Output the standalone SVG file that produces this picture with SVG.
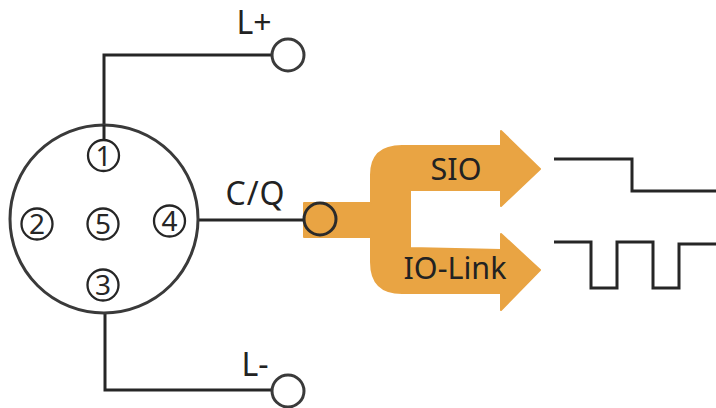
<svg xmlns="http://www.w3.org/2000/svg" width="716" height="408" viewBox="0 0 716 408">
<style>
.w{fill:none;stroke:#262626;stroke-width:3;stroke-linejoin:miter}
.c{fill:#fff;stroke:#3a3a3a;stroke-width:3}
.p{fill:#fff;stroke:#262626;stroke-width:2.300}
.pt{font-family:"Noto Sans","Open Sans",sans-serif;font-size:28px;fill:#262626;text-anchor:middle}
.t{font-family:"Noto Sans","Open Sans",sans-serif;font-size:30.500px;fill:#222;text-anchor:middle}
.o{font-family:"Noto Sans","Open Sans",sans-serif;font-size:32px;fill:#222;text-anchor:middle}
</style>
<rect width="716" height="408" fill="#fff"/>
<g id="connectors">
<path class="w" d="M104 132V55H273"/>
<path class="w" d="M105 313V390H273"/>
<path class="w" d="M186 220H305"/>
</g>
<g id="connector-body">
<circle cx="104" cy="219" r="94" class="c"/>
</g>
<g id="pin-1"><path class="w" d="M104 125V141"/><circle cx="103.500" cy="155.500" r="15.500" class="p"/><text x="103.500" y="165.500" class="pt">1</text></g>
<g id="pin-2"><circle cx="37" cy="224" r="15.500" class="p"/><text x="37" y="234" class="pt">2</text></g>
<g id="pin-5"><circle cx="103" cy="224" r="15.500" class="p"/><text x="103" y="234" class="pt">5</text></g>
<g id="pin-4"><circle cx="169.500" cy="221" r="15.500" class="p"/><text x="169.500" y="231" class="pt">4</text></g>
<g id="pin-3"><circle cx="103" cy="285" r="15.500" class="p"/><text x="103" y="295" class="pt">3</text></g>
<g id="label-lplus"><text x="254" y="34" class="o">L+</text></g>
<g id="label-lminus"><text x="255" y="376" class="o">L-</text></g>
<g id="label-cq"><text x="255" y="205" class="o" textLength="59" lengthAdjust="spacing">C/Q</text></g>
<g id="split-arrow">
<path fill="#e9a443" stroke="#e9a443" stroke-width="2" stroke-linejoin="round" d="M304 203H371V175Q371 146 402 146H501V131L540 169L501 206V190H410V248L501 250V234L540 270L501 310V293H402Q371 293 371 262V237H304Z"/>
<text x="456" y="180" class="t">SIO</text>
<text x="455" y="279" class="t">IO-Link</text>
</g>
<g id="terminal-lplus"><circle cx="288" cy="55" r="16" class="c"/></g>
<g id="terminal-lminus"><circle cx="288" cy="391" r="16" class="c"/></g>
<g id="terminal-cq"><circle cx="320" cy="219" r="16" fill="none" stroke="#2b2b2b" stroke-width="3"/></g>
<g id="signals">
<path class="w" d="M554 159H632V191H716"/>
<path class="w" d="M554 242H591V288H617V242H653V288H679V244H716"/>
</g>
</svg>
